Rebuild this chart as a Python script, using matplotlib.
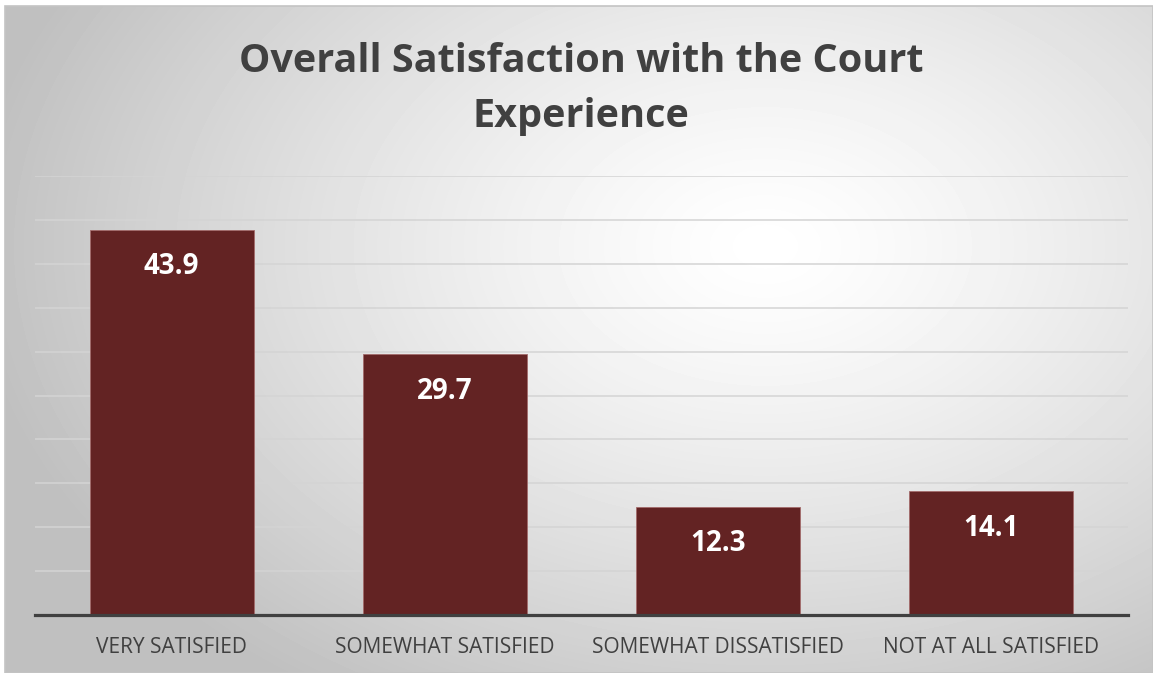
import numpy as np
import matplotlib.pyplot as plt
from matplotlib.patches import Rectangle

categories = ['VERY SATISFIED', 'SOMEWHAT SATISFIED', 'SOMEWHAT DISSATISFIED', 'NOT AT ALL SATISFIED']
values = [43.9, 29.7, 12.3, 14.1]
title = 'Overall Satisfaction with the Court\nExperience'

W, H = 1153, 673
plt.rcParams['font.family'] = ['Open Sans', 'DejaVu Sans']

fig = plt.figure(figsize=(W / 100, H / 100), dpi=100)
fig.patch.set_facecolor('white')

# radial gradient background (white in the middle, grey at the edges)
bg = fig.add_axes([5 / W, 0, 1 - 5 / W, 1 - 6 / H])
bg.set_axis_off()
yy, xx = np.mgrid[0:667, 0:1148]
cx, cy = 760, 240
r = np.sqrt(((xx - cx) / 800.0) ** 2 + ((yy - cy) / 540.0) ** 2)
shade = 1.0 - 0.25 * np.clip(r, 0, 1) ** 1.3
bg.imshow(shade, cmap='gray', vmin=0, vmax=1, aspect='auto', extent=[0, 1, 0, 1], origin='upper')
bg.set_xlim(0, 1)
bg.set_ylim(0, 1)
bg.add_patch(Rectangle((0, 0), 1, 1, transform=bg.transAxes, fill=False,
                       edgecolor='#c4c4c4', linewidth=1.2, clip_on=False))

ax = fig.add_axes([35 / W, 1 - 615 / H, 1093 / W, 439 / H])
ax.patch.set_alpha(0)
x = np.arange(len(categories))
bars = ax.bar(x, values, width=0.6, color='#632323', edgecolor='#a36b6b', linewidth=0.6, zorder=3)

ax.set_xlim(-0.5, 3.5)
ax.set_ylim(0, 50)
ax.set_yticks(np.arange(5, 51, 5))
ax.yaxis.grid(True, color='#d4d4d4', linewidth=1.1, zorder=0)
ax.tick_params(axis='y', left=False, labelleft=False)
ax.tick_params(axis='x', bottom=False, pad=12)
ax.set_xticks(x)
ax.set_xticklabels(categories, fontsize=15, color='#404040')
for s in ['top', 'right', 'left']:
    ax.spines[s].set_visible(False)
ax.spines['bottom'].set_color('#404040')
ax.spines['bottom'].set_linewidth(2.3)
ax.spines['bottom'].set_zorder(4)

for xi, v in zip(x, values):
    ax.annotate(f'{v:.1f}', (xi, v), xytext=(0, -26.5), textcoords='offset points',
                ha='center', va='center', color='white', fontsize=20, fontweight='bold', zorder=5)

fig.text(581 / W, 1 - 89 / H, title, ha='center', va='center', fontsize=28.5,
         fontweight='bold', color='#404040', linespacing=1.5)

fig.savefig('out.png', dpi=100)
